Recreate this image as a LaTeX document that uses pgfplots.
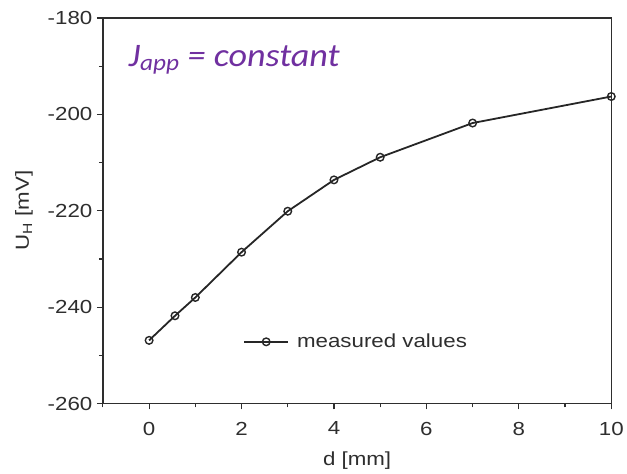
\documentclass[border=0pt]{standalone}
\usepackage{pgfplots}
\pgfplotsset{compat=1.18}
\usepackage{fontspec}
\setmainfont[FakeStretch=1.18]{Liberation Sans}
\newfontfamily\calib[FakeStretch=1.1]{Carlito}
\definecolor{txtgrey}{HTML}{2E2E2E}
\definecolor{purp}{HTML}{7030A0}
\begin{document}
\begin{tikzpicture}[x=1bp,y=1bp]
\begin{axis}[
  scale only axis,
  width=509bp, height=386bp,
  xmin=-1, xmax=10, ymin=-260, ymax=-180,
  xtick={0,2,4,6,8,10},
  ytick={-260,-240,-220,-200,-180},
  minor xtick={-1,1,3,5,7,9},
  minor ytick={-250,-230,-210,-190},
  tick align=outside,
  xtick pos=bottom, ytick pos=left,
  major tick length=6bp, minor tick length=4bp,
  every tick/.style={txtgrey, line width=1.2bp},
  axis line style={txtgrey, line width=1.4bp},
  tick label style={font=\fontsize{19}{22}\selectfont, text=txtgrey},
  label style={font=\fontsize{19}{22}\selectfont, text=txtgrey},
  /pgf/number format/assume math mode=true,
  xticklabel style={yshift=-9bp},
  yticklabel style={xshift=-1bp},
  xlabel={d [mm]},
  ylabel={U\textsubscript{H} [mV]},
  xlabel style={yshift=-10bp},
  ylabel style={yshift=8bp},
  legend style={draw=none, fill=none, at={(rel axis cs:0.27,0.16)}, anchor=west,
    font=\fontsize{19}{22}\selectfont, text=txtgrey},
  legend image code/.code={
    \draw[#1, mark repeat=2, mark phase=2] plot coordinates {(0bp,0bp) (22bp,0bp) (44bp,0bp)};},
  legend cell align=left,
  clip=false,
]
\addplot[black!85, line width=1.8bp, mark=o, mark size=3.8bp,
  mark options={line width=1.4bp, fill=white}]
  coordinates {
  (0,-246.9) (0.56,-241.8) (1,-238.0) (2,-228.6) (3,-220.1)
  (4,-213.6) (5,-208.9) (7,-201.8) (10,-196.3)
  };
\addlegendentry{\hspace{6bp}measured values}
\node[anchor=base west, text=purp, font=\calib\itshape\fontsize{33}{38}\selectfont, inner sep=0pt]
  at (rel axis cs:0.05,0.873) {J\textsubscript{app} = constant};
\path (rel axis cs:-0.2024,-0.176) rectangle (rel axis cs:1.0295,1.0466);
\end{axis}
\end{tikzpicture}
\end{document}
